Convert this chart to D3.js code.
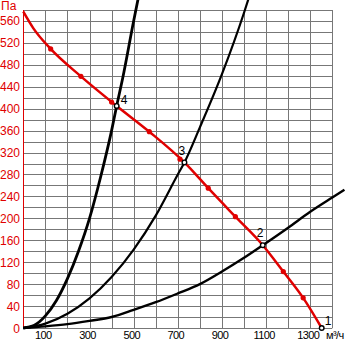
<!DOCTYPE html>
<html>
<head>
<meta charset="utf-8">
<script src="https://d3js.org/d3.v7.min.js"></script>
<style>
    body { margin: 0; background: #fff; }
    svg { display: block; background: #fff; }
    text { font-family: "Liberation Sans", Arial, sans-serif; font-size: 12px; }
    .xlab { font-size: 11px; letter-spacing: -0.6px; }
</style>
</head>
<body>
<script>
    // Fan curve (Q m3/h, P Pa)
    var fanQ = [0, 45, 124, 261, 423, 571, 730, 838, 961, 1085, 1178, 1268, 1352];
    var fanP = [577, 547, 509, 459, 405, 358, 302, 255, 203, 151, 103, 55, 0];
    // red dots on the fan curve
    var dotQ = [124, 261, 400, 571, 710, 838, 961, 1178, 1268];
    var dotP = [509, 459, 412, 358, 308, 255, 203, 103, 55];

    // System curves
    var sysAQ = [0, 50, 100, 150, 200, 250, 300, 350, 400, 423, 450, 500, 520];
    var sysAP = [0, 5, 22, 50, 90, 140, 200, 275, 360, 405, 455, 560, 600];
    var sysBQ = [0, 100, 200, 300, 400, 500, 600, 700, 730, 800, 900, 1000, 1020];
    var sysBP = [0, 8, 26, 54, 93, 143, 205, 280, 302, 366, 463, 575, 600];
    var sysCQ = [0, 100, 200, 300, 400, 500, 600, 700, 800, 900, 1000, 1085, 1200, 1300, 1400, 1455];
    var sysCP = [0, 3, 7, 13, 20, 33, 47, 63, 80, 103, 128, 151, 183, 212, 238, 252];

    // Operating points
    var opLabels = ["1", "2", "3", "4"];
    var opQ = [1352, 1085, 730, 423];
    var opP = [0, 151, 302, 405];

    var xTicks = [100, 300, 500, 700, 900, 1100, 1300];
    var yTicks = [0, 40, 80, 120, 160, 200, 240, 280, 320, 360, 400, 440, 480, 520, 560];

    var W = 353, H = 342;
    var x = d3.scaleLinear().domain([0, 1400]).range([23.3, 332.3]);
    var y = d3.scaleLinear().domain([0, 580]).range([328, 10]);

    var svg = d3.select("body").append("svg")
        .attr("width", W)
        .attr("height", H);

    // grid
    svg.append("g")
        .selectAll("line")
        .data(d3.range(0, 1401, 100))
        .enter().append("line")
        .attr("x1", function(d) { return Math.round(x(d)) + 0.5; })
        .attr("x2", function(d) { return Math.round(x(d)) + 0.5; })
        .attr("y1", y(580)).attr("y2", y(0))
        .attr("stroke", "#777").attr("stroke-width", 1);

    svg.append("g")
        .selectAll("line")
        .data(d3.range(0, 581, 20))
        .enter().append("line")
        .attr("y1", function(d) { return Math.round(y(d)) + 0.5; })
        .attr("y2", function(d) { return Math.round(y(d)) + 0.5; })
        .attr("x1", x(0)).attr("x2", x(1400))
        .attr("stroke", "#777").attr("stroke-width", 1);

    // y axis (red)
    svg.append("line")
        .attr("x1", Math.round(x(0)) + 0.5).attr("x2", Math.round(x(0)) + 0.5)
        .attr("y1", y(580)).attr("y2", y(0) + 0.5)
        .attr("stroke", "#e00000").attr("stroke-width", 1);

    svg.append("g").selectAll("text")
        .data(yTicks)
        .enter().append("text")
        .attr("x", 20)
        .attr("y", function(d) { return y(d) + 4.5; })
        .attr("text-anchor", "end")
        .attr("fill", "#e00000")
        .text(function(d) { return d; });

    svg.append("text")
        .attr("x", 1).attr("y", 10)
        .attr("fill", "#e00000")
        .text("Па");

    svg.append("g").selectAll("text")
        .data(xTicks)
        .enter().append("text")
        .attr("class", "xlab")
        .attr("x", function(d) { return x(d) - 2; })
        .attr("y", 339)
        .attr("text-anchor", "middle")
        .attr("fill", "#000")
        .text(function(d) { return d; });

    svg.append("text")
        .attr("class", "xlab")
        .attr("x", 326).attr("y", 339)
        .attr("fill", "#000")
        .text("м³/ч");

    var line = d3.line()
        .x(function(d) { return x(d[0]); })
        .y(function(d) { return y(d[1]); })
        .curve(d3.curveMonotoneX);

    function pairs(qs, ps) { return qs.map(function(q, i) { return [q, ps[i]]; }); }

    // system curves
    svg.append("path").datum(pairs(sysAQ, sysAP))
        .attr("d", line).attr("fill", "none").attr("stroke", "#000").attr("stroke-width", 2.8);
    svg.append("path").datum(pairs(sysBQ, sysBP))
        .attr("d", line).attr("fill", "none").attr("stroke", "#000").attr("stroke-width", 2.2);
    svg.append("path").datum(pairs(sysCQ, sysCP))
        .attr("d", line).attr("fill", "none").attr("stroke", "#000").attr("stroke-width", 2.4);

    // fan curve
    svg.append("path").datum(pairs(fanQ, fanP))
        .attr("d", line).attr("fill", "none").attr("stroke", "#e00000").attr("stroke-width", 2.5);

    svg.append("g").selectAll("circle")
        .data(pairs(dotQ, dotP))
        .enter().append("circle")
        .attr("cx", function(d) { return x(d[0]); })
        .attr("cy", function(d) { return y(d[1]); })
        .attr("r", 2.6)
        .attr("fill", "#e00000");

    // operating points
    var ops = opLabels.map(function(l, i) { return {label: l, q: opQ[i], p: opP[i]}; });
    svg.append("g").selectAll("circle")
        .data(ops)
        .enter().append("circle")
        .attr("cx", function(d) { return x(d.q); })
        .attr("cy", function(d) { return y(d.p); })
        .attr("r", 2.3)
        .attr("fill", "#fff")
        .attr("stroke", "#000")
        .attr("stroke-width", 1.4);

    var labelOffset = {"1": [3, -3], "2": [-6, -8], "3": [-6, -7], "4": [4, -2]};
    svg.append("g").selectAll("text")
        .data(ops)
        .enter().append("text")
        .attr("x", function(d) { return x(d.q) + labelOffset[d.label][0]; })
        .attr("y", function(d) { return y(d.p) + labelOffset[d.label][1]; })
        .attr("fill", "#000")
        .text(function(d) { return d.label; });
</script>
</body>
</html>
